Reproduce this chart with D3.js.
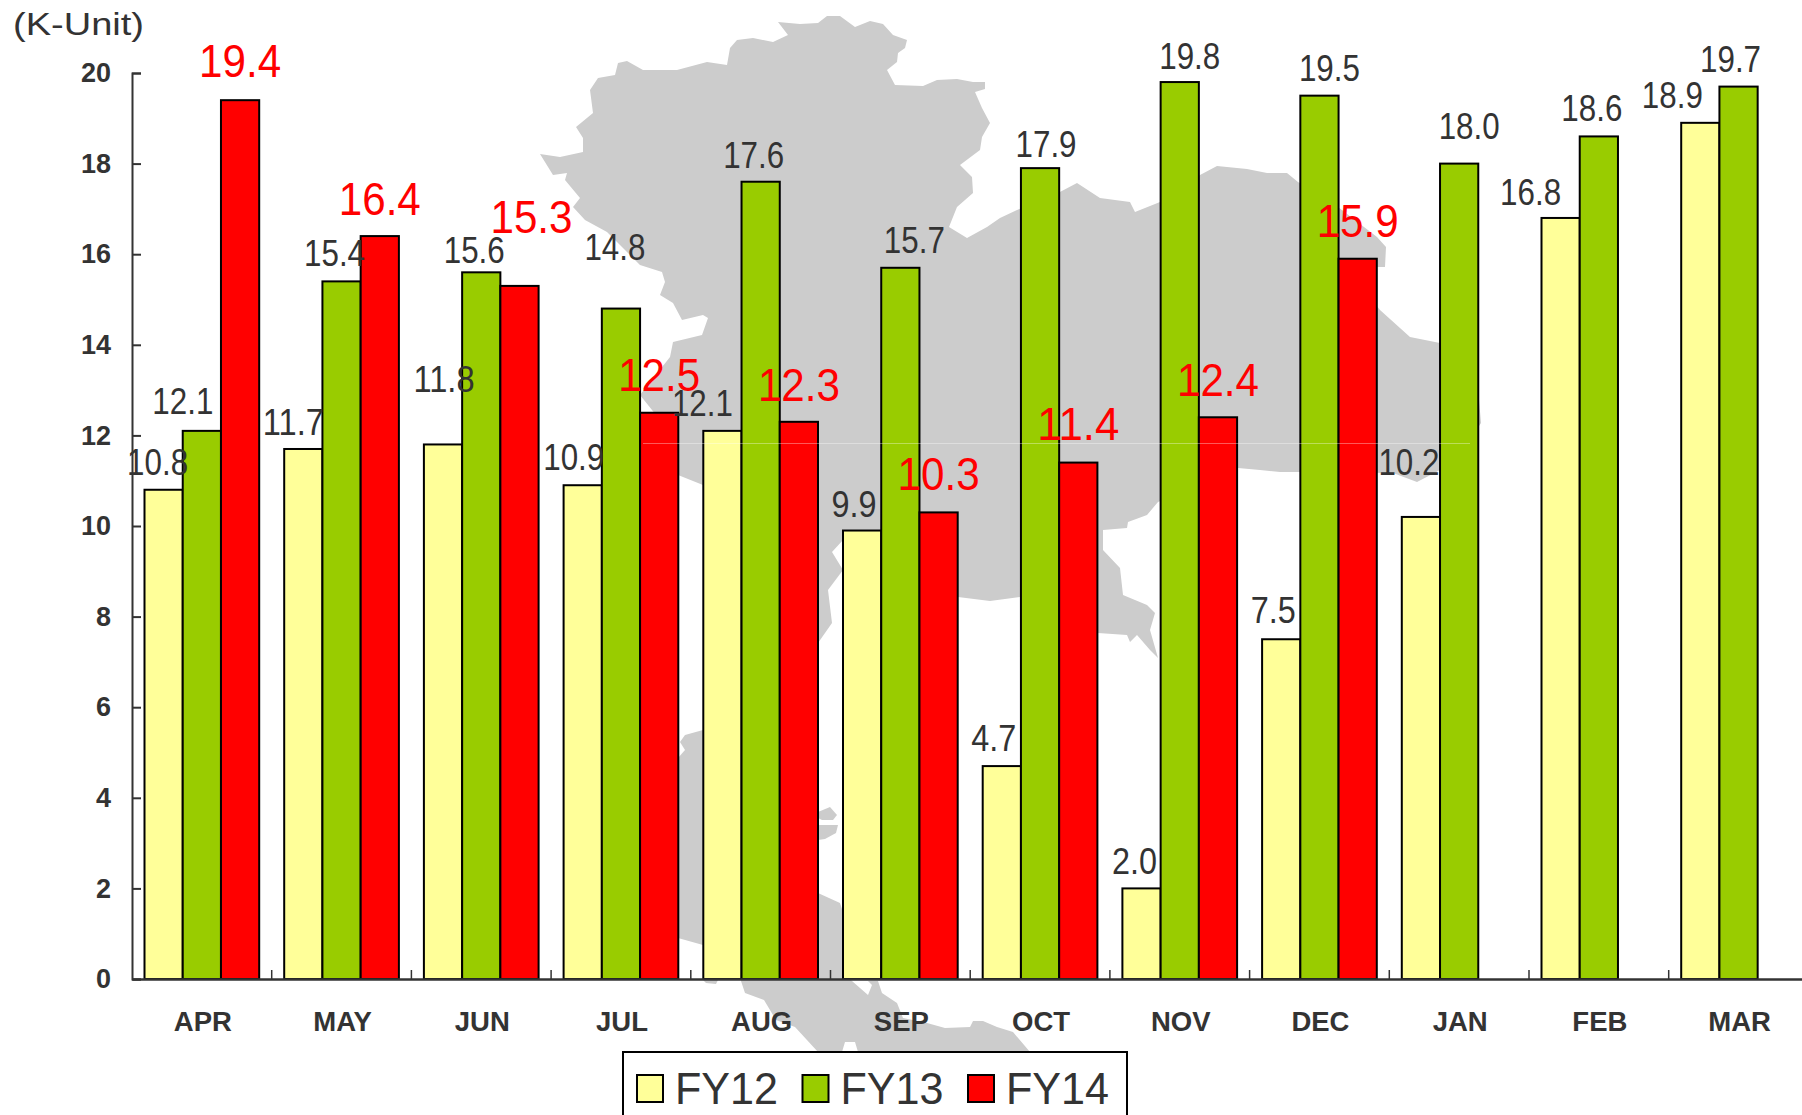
<!DOCTYPE html>
<html>
<head>
    <meta charset="utf-8">
    <title>Monthly units</title>
    <script src="https://d3js.org/d3.v7.min.js"></script>
    <style>
        html, body { margin: 0; padding: 0; background: #fff; overflow: hidden; }
    </style>
</head>

<body>
<div id="chart"></div>
<script type="text/javascript">
    let w = 1802;
    let h = 1115;

    // Data
    let months = ["APR", "MAY", "JUN", "JUL", "AUG", "SEP", "OCT", "NOV", "DEC", "JAN", "FEB", "MAR"];
    let seriesNames = ["FY12", "FY13", "FY14"];
    let fy12 = [10.8, 11.7, 11.8, 10.9, 12.1, 9.9, 4.7, 2.0, 7.5, 10.2, 16.8, 18.9];
    let fy13 = [12.1, 15.4, 15.6, 14.8, 17.6, 15.7, 17.9, 19.8, 19.5, 18.0, 18.6, 19.7];
    let fy14 = [19.4, 16.4, 15.3, 12.5, 12.3, 10.3, 11.4, 12.4, 15.9, null, null, null];
    let yTicks = [0, 2, 4, 6, 8, 10, 12, 14, 16, 18, 20];

    let colors = ["#ffff99", "#99cc00", "#ff0000"];

    // Hand moved labels in the original: offset from bar centre / bar top
    let nudgeX = [
        [-6, -10, 1, -9, -20, -8, -8, -7, -8, -12, -30, -28],
        [-19, -7, -7, -6, -7, 14, 6, 10, 10, 10, -7, -8],
        [0, 0, 12, 0, 0, 0, 0, 0, 0, 0, 0, 0]
    ];
    let nudgeY = [
        [-28, -27, -65, -28, -28, -26, -28, -27, -29, -55, -26, -28],
        [-30, -28, -22, -62, -27, -28, -24, -26, -28, -38, -28, -28],
        [-40, -38, -69, -38, -37, -39, -39, -38, -38, 0, 0, 0]
    ];

    // Background map silhouette, traced by hand (pixels)
    let mapNorth = [
        [540,154],[560,157],[583,152],[583,138],[576,127],[593,113],[590,90],[598,78],[615,75],[618,63],
        [627,61],[643,70],[677,70],[707,62],[727,65],[730,48],[737,40],[753,38],[773,42],[788,35],
        [778,22],[800,24],[818,23],[827,16],[840,16],[855,27],[870,21],[883,24],[893,35],[907,40],
        [905,48],[898,53],[897,62],[887,70],[895,85],[923,86],[937,80],[957,79],[973,82],[985,82],
        [985,89],[975,92],[982,108],[990,123],[982,137],[980,150],[960,165],[972,177],[973,193],[957,207],
        [949,227],[967,238],[987,227],[1000,218],[1017,210],[1058,193],[1077,183],[1100,198],[1130,202],[1135,212],
        [1160,202],[1200,175],[1217,166],[1247,169],[1267,173],[1287,173],[1298,182],[1338,207],[1377,237],[1386,247],
        [1385,267],[1372,267],[1372,300],[1380,310],[1410,337],[1440,343],[1470,350],[1478,375],[1479,400],[1481,423],
        [1470,440],[1440,470],[1417,482],[1393,473],[1300,472],[1280,472],[1260,470],[1238,468],[1158,502],[1147,515],
        [1128,522],[1127,528],[1103,530],[1103,550],[1120,568],[1123,595],[1147,605],[1155,613],[1150,630],[1158,658],
        [1150,650],[1137,635],[1130,642],[1127,635],[1098,633],[1020,597],[990,601],[958,597],[900,560],[843,540],
        [832,552],[843,570],[828,590],[832,623],[818,643],[760,600],[703,485],[678,475],[660,465],[660,420],
        [640,395],[670,357],[673,342],[702,335],[708,318],[703,315],[682,320],[673,303],[660,295],[665,282],
        [662,272],[640,265],[607,232],[585,220],[573,207],[580,198],[565,180],[567,173],[553,175]
    ];
    let mapSouth = [
        [818,893],[840,903],[843,912],[850,979],[852,981],[868,995],[872,985],[868,981],[878,981],[882,993],
        [897,1003],[903,1018],[927,1023],[945,1028],[970,1027],[973,1021],[983,1021],[997,1027],[1013,1032],[1030,1052],
        [858,1052],[855,1042],[845,1042],[842,1052],[818,1052],[795,1027],[776,1020],[764,1000],[745,993],[741,981],
        [740,975],[770,900]
    ];
    let mapPeninsula = [
        [703,730],[685,735],[680,742],[685,750],[678,758],[660,770],[660,935],[678,938],[703,945],[720,945],[720,740]
    ];
    let mapSliver = [[703,980],[718,980],[716,984],[706,983]];
    let mapIslandA = [[818,812],[830,807],[837,815],[833,820],[822,820],[818,818]];
    let mapIslandB = [[818,825],[838,825],[836,833],[825,839],[818,840]];
    let mapParts = [mapNorth, mapSouth, mapPeninsula, mapSliver, mapIslandA, mapIslandB];

    let marginLeft = 132;
    let stepX = 139.7;
    let y0 = 979;
    let y20 = 73;

    // Escalas
    let xScale = d3.scaleBand()
                    .domain(months)
                    .range([marginLeft, marginLeft + stepX * months.length]);

    let barScale = d3.scaleBand()
                    .domain(seriesNames)
                    .range([12.5, 127.2]);

    let yScale = d3.scaleLinear()
                    .domain([0, 20])
                    .range([y0, y20]);

    let svg = d3.select("#chart")
                .append("svg")
                .attr("width", w)
                .attr("height", h)
                .style("display", "block");

    // Map behind everything
    let mapLine = d3.line().curve(d3.curveLinearClosed);
    svg.append("g")
        .selectAll("path")
        .data(mapParts)
        .enter()
        .append("path")
        .attr("d", function(d) { return mapLine(d); })
        .attr("fill", "#cccccc");

    // Bars
    let allSeries = [fy12, fy13, fy14];
    let rows = [];
    allSeries.forEach(function(values, s) {
        values.forEach(function(v, m) {
            if (v !== null) rows.push({ s: s, m: m, v: v });
        });
    });

    svg.append("g")
        .selectAll("rect")
        .data(rows)
        .enter()
        .append("rect")
        .attr("x", function(d) { return xScale(months[d.m]) + barScale(seriesNames[d.s]); })
        .attr("y", function(d) { return yScale(d.v); })
        .attr("width", barScale.bandwidth())
        .attr("height", function(d) { return y0 - yScale(d.v); })
        .attr("fill", function(d) { return colors[d.s]; })
        .attr("stroke", "#000")
        .attr("stroke-width", 2);

    // Faint seam line of the background picture
    svg.append("line")
        .attr("x1", 643).attr("x2", 1470)
        .attr("y1", 443.5).attr("y2", 443.5)
        .attr("stroke", "#fff")
        .attr("stroke-opacity", 0.35);

    // Y axis
    let yAxis = d3.axisLeft(yScale)
                    .tickValues(yTicks)
                    .tickSize(-9)
                    .tickPadding(21);

    let gy = svg.append("g")
                .attr("transform", "translate(" + marginLeft + ",0)")
                .call(yAxis);
    gy.select(".domain").attr("stroke", "#333").attr("stroke-width", 2);
    gy.selectAll(".tick line").attr("stroke", "#333").attr("stroke-width", 2);
    gy.selectAll("text")
        .attr("font-family", "'Liberation Sans', sans-serif")
        .attr("font-weight", "bold")
        .attr("font-size", "27px")
        .attr("fill", "#333");

    // X axis, ticks sit between the months
    let xAxis = d3.axisBottom(xScale).tickSize(0).tickPadding(32);
    let gx = svg.append("g")
                .attr("transform", "translate(0," + y0 + ")")
                .call(xAxis);
    gx.select(".domain").attr("stroke", "#333").attr("stroke-width", 2.5);
    gx.selectAll("text")
        .attr("font-family", "'Liberation Sans', sans-serif")
        .attr("font-weight", "bold")
        .attr("font-size", "27.5px")
        .attr("dx", 1)
        .attr("fill", "#333");

    svg.append("g")
        .selectAll("line")
        .data(months.slice(1))
        .enter()
        .append("line")
        .attr("x1", function(d) { return xScale(d); })
        .attr("x2", function(d) { return xScale(d); })
        .attr("y1", y0 - 9)
        .attr("y2", y0)
        .attr("stroke", "#333")
        .attr("stroke-width", 1.5);

    // Value labels, squeezed because the original face is a narrow one
    svg.append("g")
        .selectAll("text")
        .data(rows)
        .enter()
        .append("text")
        .attr("x", function(d) {
            return xScale(months[d.m]) + barScale(seriesNames[d.s]) + barScale.bandwidth() / 2 + nudgeX[d.s][d.m];
        })
        .attr("y", function(d) { return yScale(d.v) + nudgeY[d.s][d.m]; })
        .attr("dy", "0.36em")
        .attr("text-anchor", "middle")
        .attr("font-family", "'Liberation Sans', sans-serif")
        .attr("font-size", function(d) { return d.s === 2 ? "46px" : "36px"; })
        .attr("textLength", function(d) {
            let txt = d.v.toFixed(1);
            if (d.s === 2) return 82;
            return txt.length === 4 ? 61 : 45;
        })
        .attr("lengthAdjust", "spacingAndGlyphs")
        .attr("fill", function(d) { return d.s === 2 ? "#ff0000" : "#333"; })
        .text(function(d) { return d.v.toFixed(1); });

    // Unit
    svg.append("text")
        .attr("x", 13)
        .attr("y", 35)
        .attr("font-family", "'Liberation Sans', sans-serif")
        .attr("font-size", "32px")
        .attr("textLength", 131)
        .attr("lengthAdjust", "spacingAndGlyphs")
        .attr("fill", "#333")
        .text("(K-Unit)");

    // Legend
    svg.append("rect")
        .attr("x", 623)
        .attr("y", 1052)
        .attr("width", 504)
        .attr("height", 90)
        .attr("fill", "#fff")
        .attr("stroke", "#000")
        .attr("stroke-width", 2);

    let legendX = d3.scalePoint().domain(seriesNames).range([637, 968]);

    let legend = svg.append("g")
                    .selectAll("g")
                    .data(seriesNames)
                    .enter()
                    .append("g")
                    .attr("transform", function(d) { return "translate(" + legendX(d) + ",1075)"; });

    legend.append("rect")
        .attr("width", 26)
        .attr("height", 27)
        .attr("fill", function(d, i) { return colors[i]; })
        .attr("stroke", "#000")
        .attr("stroke-width", 2);

    legend.append("text")
        .attr("x", 38)
        .attr("y", 29)
        .attr("font-family", "'Liberation Sans', sans-serif")
        .attr("font-size", "44px")
        .attr("textLength", 103)
        .attr("lengthAdjust", "spacingAndGlyphs")
        .attr("fill", "#333")
        .text(function(d) { return d; });
</script>
</body>
</html>
